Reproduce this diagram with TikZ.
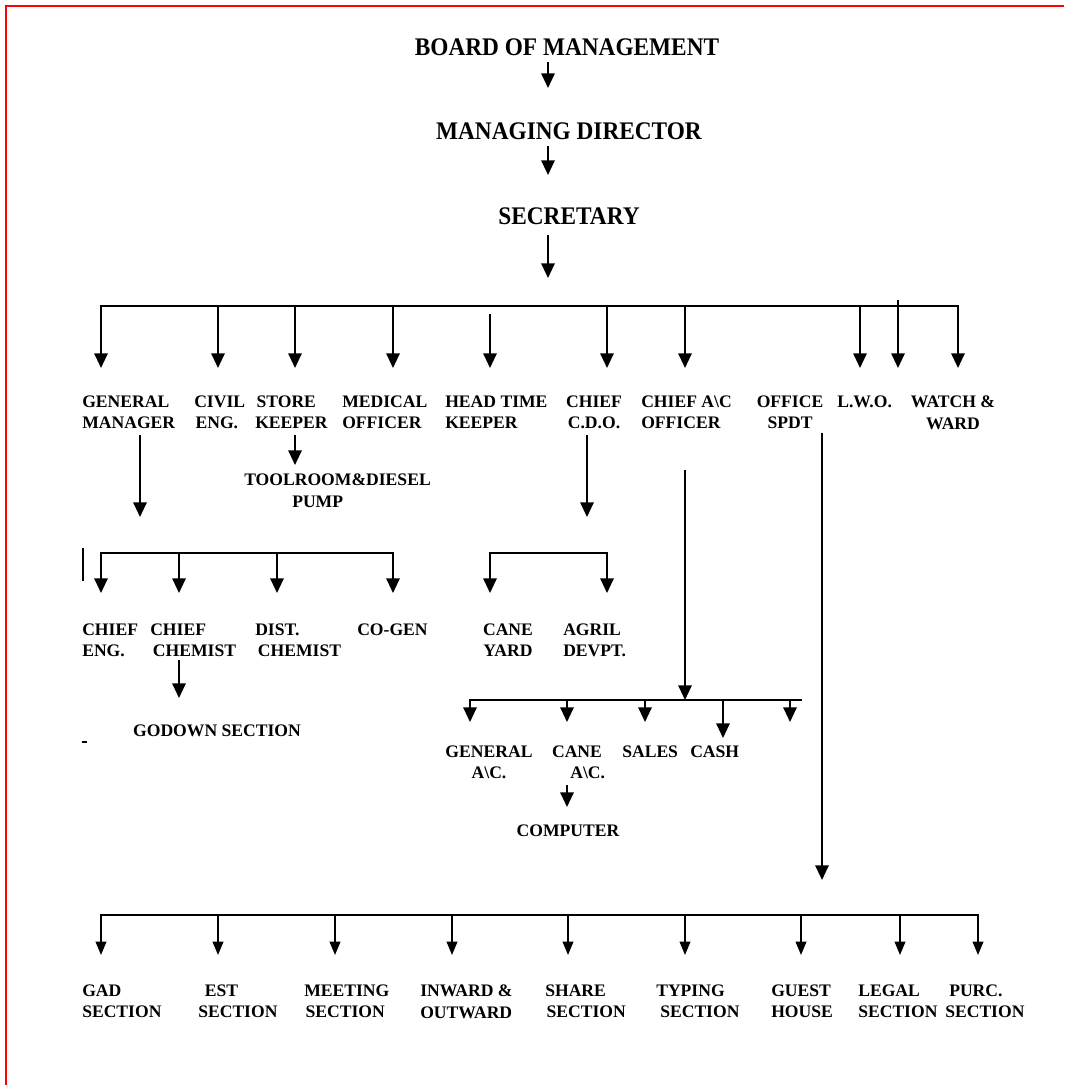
\documentclass[tikz,border=0pt]{standalone}
\usepackage{fontspec}
\setmainfont{Liberation Serif}
\usetikzlibrary{arrows.meta}
\begin{document}
\begin{tikzpicture}[x=0.75pt,y=-0.75pt,
  lbl/.style={inner sep=0pt, font=\bfseries\fontsize{13.2}{15.8}\selectfont, align=left, anchor=north west},
  clbl/.style={lbl, align=center, anchor=north},
  title/.style={inner sep=0pt, font=\bfseries\fontsize{19}{21}\selectfont\addfontfeature{FakeStretch=0.92}},
  arr/.style={line width=1.5pt, -{Triangle[width=10pt,length=11pt]}},
  sarr/.style={line width=1.1pt, -{Triangle[width=8pt,length=10pt]}},
  bus/.style={line width=1.5pt, line cap=rect},
  tick/.style={line width=2.2pt},
]
\useasboundingbox (0,0) rectangle (1064,1085);
% page edge
\draw[red, line width=1.1pt] (6,1085) -- (6,6) -- (1064,6);

% top of the chain
\node[title] (bom) at (567,47) {BOARD OF MANAGEMENT};
\node[title] (md)  at (569,131) {MANAGING DIRECTOR};
\node[title] (sec) at (569,216) {SECRETARY};
\coordinate (bomS) at (548,62);  \coordinate (mdN) at (548,88);
\coordinate (mdS)  at (548,146); \coordinate (secN) at (548,175);
\coordinate (secS) at (548,235); \coordinate (busA) at (548,278);
\draw[arr] (bomS) -- (mdN);
\draw[arr] (mdS) -- (secN);
\draw[arr] (secS) -- (busA);

% first level bus
\coordinate (b1L) at (101,306); \coordinate (b1R) at (958,306);
\draw[bus] (b1L) -- (b1R);
\foreach \x/\n in {101/gm,218/ce,295/sk,393/mo,607/cdo,685/cac,860/lwo,958/ww}
  \draw[arr] (\x,306) coordinate (s\n) -- (\x,368) coordinate (t\n);
\draw[arr] (490,314) coordinate (sht) -- (490,368) coordinate (tht);
\draw[arr] (898,300) coordinate (sx) -- (898,368) coordinate (tx);

% first level labels
\node[lbl] (gm)  at (82,396)  {GENERAL\\MANAGER};
\node[lbl] (civ) at (194,396) {CIVIL\\\hspace*{1pt}ENG.};
\node[lbl] (sk)  at (255,396) {\hspace*{1pt}STORE\\KEEPER};
\node[lbl] (mo)  at (342,396) {MEDICAL\\OFFICER};
\node[lbl] (ht)  at (445,396) {HEAD TIME\\KEEPER};
\node[clbl] (cdo) at (594,396) {CHIEF\\C.D.O.};
\node[lbl] (cac) at (641,396) {CHIEF A\textbackslash C\\OFFICER};
\node[clbl] (os) at (790,396) {OFFICE\\SPDT};
\node[lbl] (lwo) at (837,396) {L.W.O.};
\node[clbl] (ww) at (953,396) {WATCH \&\\WARD};

% store keeper
\coordinate (skS) at (295,435); \coordinate (tlN) at (295,465);
\draw[arr] (skS) -- (tlN);
\node[lbl] (tl) at (244,474) {TOOLROOM\&DIESEL\\\hspace*{36pt}PUMP};

% general manager branch
\coordinate (gmS) at (140,435); \coordinate (gmB) at (140,517);
\draw[arr] (gmS) -- (gmB);
\draw[tick] (83,548) -- (83,581);
\draw[bus] (101,553) coordinate (b2L) -- (393,553) coordinate (b2R);
\foreach \x/\n in {101/ceng,179/cch,277/dch,393/cog}
  \draw[arr] (\x,553) -- (\x,593) coordinate (t\n);
\node[lbl] (ceng) at (82,624)  {CHIEF\\ENG.};
\node[lbl] (cch)  at (150,624) {CHIEF\\\hspace*{2pt}CHEMIST};
\node[lbl] (dch)  at (255,624) {DIST.\\\hspace*{2pt}CHEMIST};
\node[lbl] (cog)  at (357,624) {CO-GEN};
\coordinate (cchS) at (179,660); \coordinate (gdN) at (179,698);
\draw[arr] (cchS) -- (gdN);
\node[lbl, anchor=center] (gd) at (217,731) {GODOWN SECTION};
\draw[line width=1.2pt] (82,742) -- (87,742);

% chief C.D.O. branch
\coordinate (cdoS) at (587,435); \coordinate (cdoB) at (587,517);
\draw[arr] (cdoS) -- (cdoB);
\draw[bus] (490,553) coordinate (b3L) -- (607,553) coordinate (b3R);
\draw[arr] (b3L) -- (490,593) coordinate (tcy);
\draw[arr] (b3R) -- (607,593) coordinate (tag);
\node[clbl] (cy) at (508,624) {CANE\\YARD};
\node[lbl]  (ag) at (563,624) {AGRIL\\DEVPT.};

% chief A\C officer branch
\coordinate (cacS) at (685,470); \coordinate (b4M) at (685,700);
\draw[arr] (cacS) -- (b4M);
\draw[bus] (470,700) coordinate (b4L) -- (801,700) coordinate (b4R);
\foreach \x/\n in {470/gac,567/kac,645/sal,790/blank}
  \draw[arr] (\x,700) -- (\x,722) coordinate (t\n);
\draw[arr] (723,700) -- (723,738) coordinate (tcash);
\node[clbl] (gac)  at (489,746) {GENERAL\\A\textbackslash C.};
\node[clbl] (kac)  at (577,746) {CANE\\\hspace*{16pt}A\textbackslash C.};
\node[lbl]  (sal)  at (622,746) {SALES};
\node[lbl]  (cash) at (690,746) {CASH};
\coordinate (kacS) at (567,785); \coordinate (compN) at (567,807);
\draw[arr] (kacS) -- (compN);
\node[lbl, anchor=center] (comp) at (568,831) {COMPUTER};

% office superintendent branch
\coordinate (osS) at (822,433); \coordinate (osB) at (822,880);
\draw[arr] (osS) -- (osB);
\draw[bus] (101,915) coordinate (b5L) -- (978,915) coordinate (b5R);
\foreach \x/\n in {101/gad,218/est,335/meet,452/inw,568/sh,685/typ,801/gh,900/leg,978/purc}
  \draw[sarr] (\x,915) -- (\x,955) coordinate (t\n);
\node[lbl] (gad)  at (82,985)  {GAD\\SECTION};
\node[lbl] (est)  at (198,985) {\hspace*{5pt}EST\\SECTION};
\node[lbl] (meet) at (304,985) {MEETING\\\hspace*{1pt}SECTION};
\node[lbl] (inw)  at (420,985) {INWARD \&\\OUTWARD};
\node[lbl] (sh)   at (545,985) {SHARE\\\hspace*{1pt}SECTION};
\node[lbl] (typ)  at (656,985) {TYPING\\\hspace*{3pt}SECTION};
\node[lbl] (gh)   at (771,985) {GUEST\\HOUSE};
\node[lbl] (leg)  at (858,985) {LEGAL\\SECTION};
\node[lbl] (purc) at (945,985) {\hspace*{3pt}PURC.\\SECTION};
\end{tikzpicture}
\end{document}
